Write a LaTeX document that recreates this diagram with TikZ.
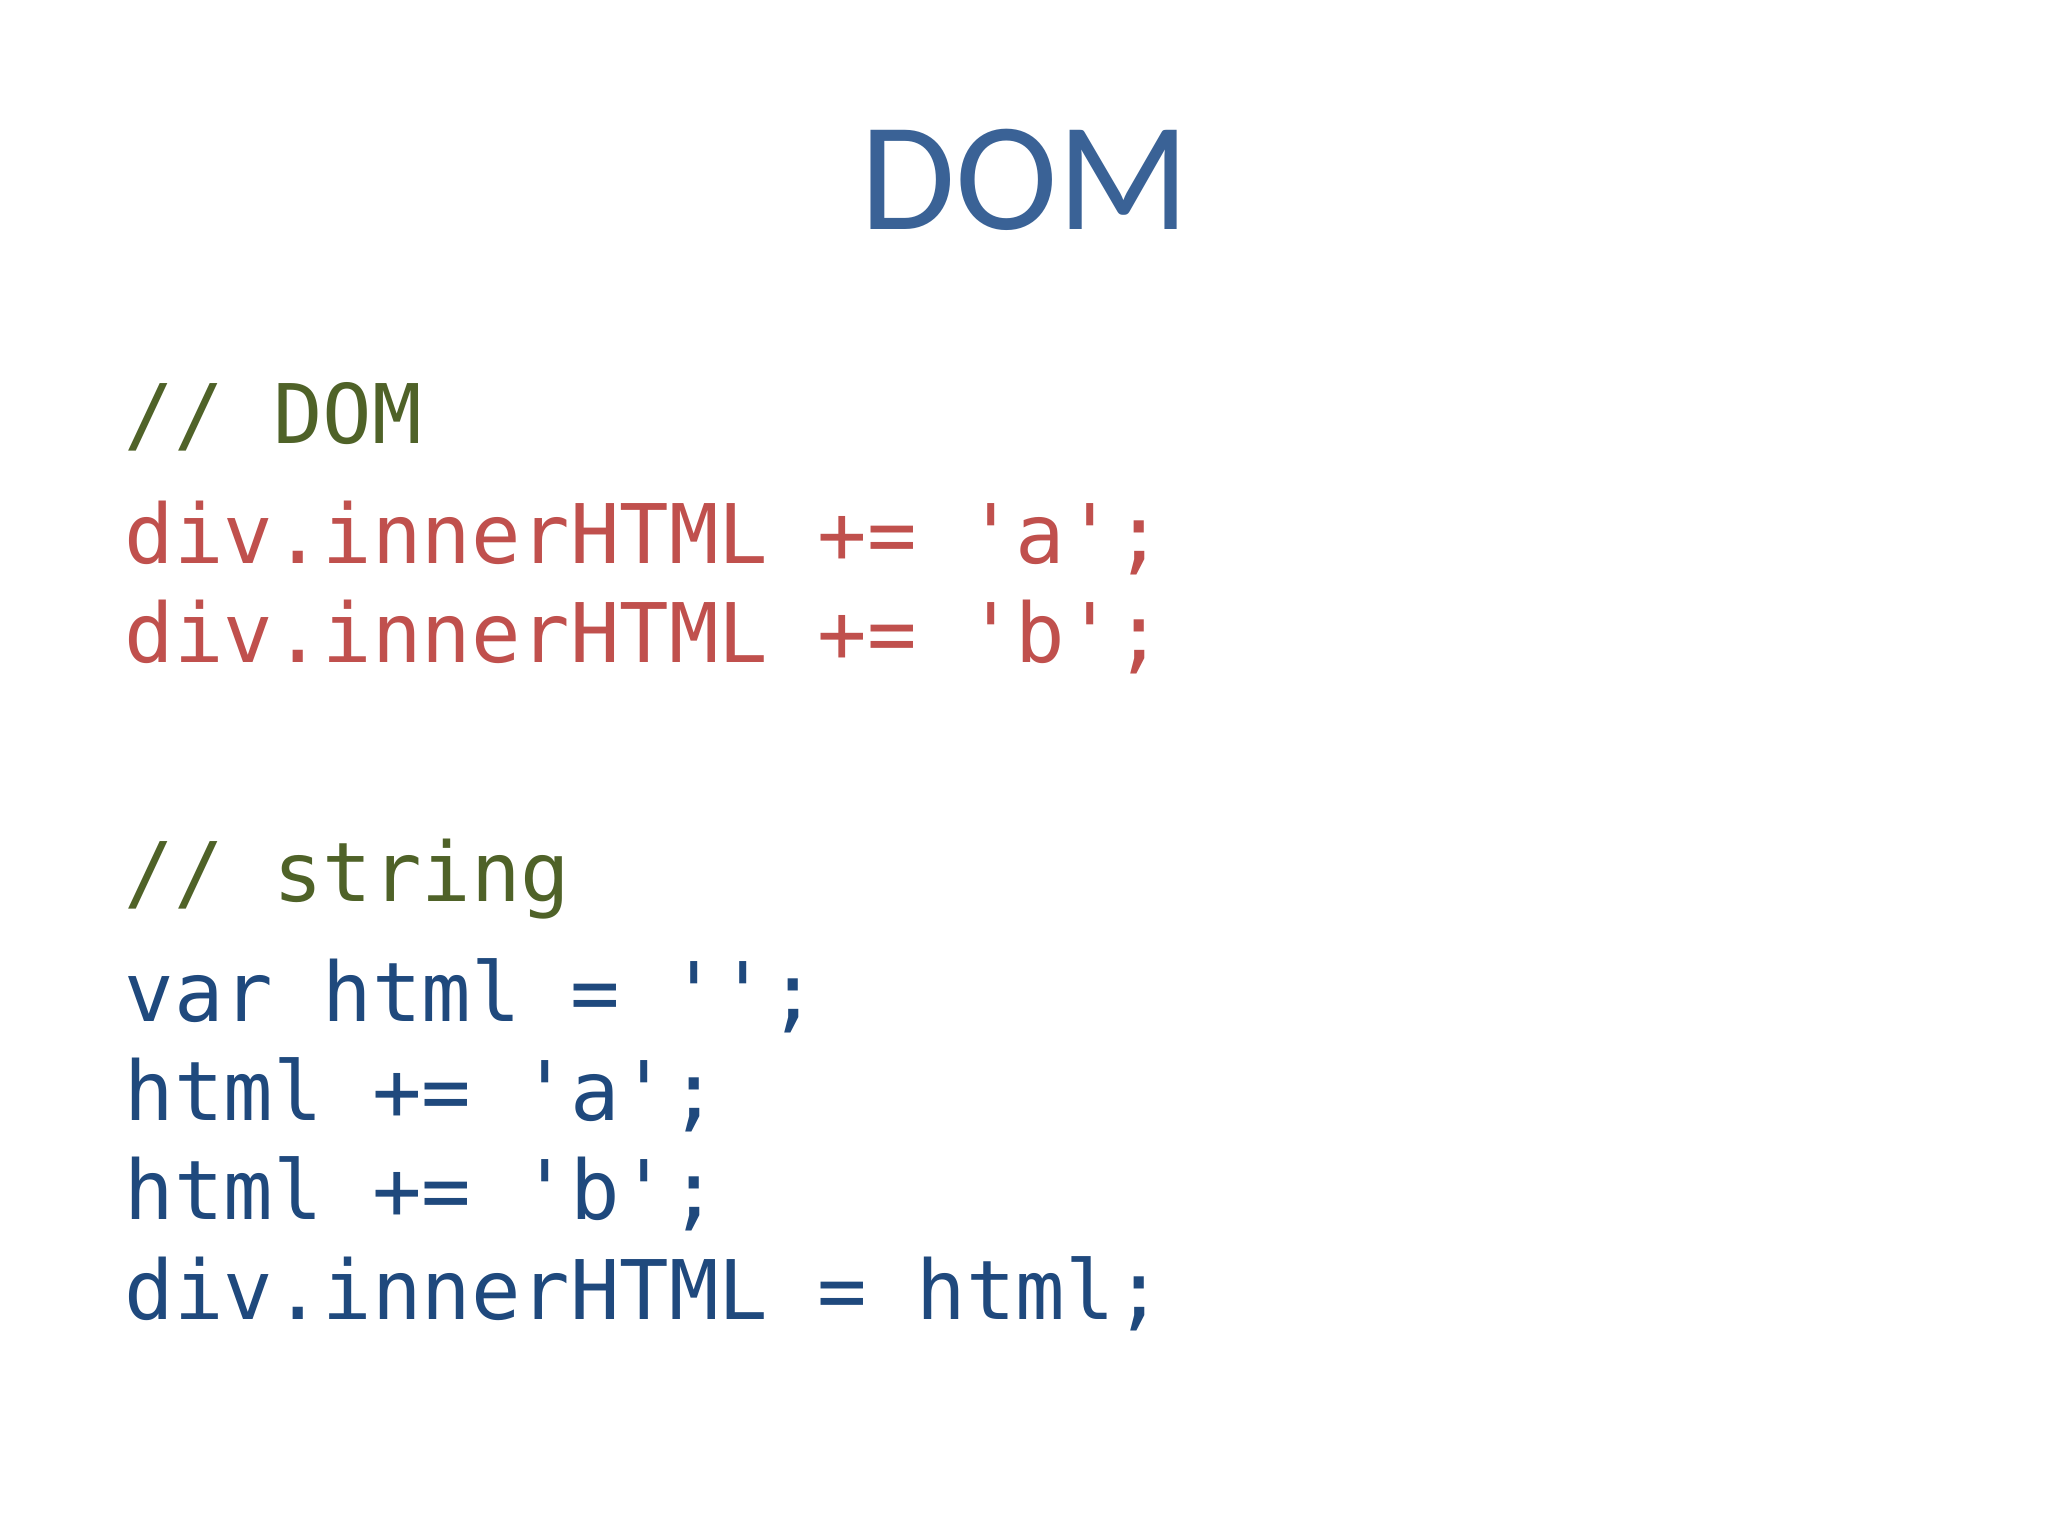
\documentclass[tikz,border=0pt]{standalone}
\usepackage{fontspec}
\setmainfont{Carlito}
\newfontfamily\codefont{DejaVu Sans Mono}
\definecolor{titleblue}{HTML}{3A6296}
\definecolor{cmtgreen}{HTML}{4F6228}
\definecolor{codered}{HTML}{C0504D}
\definecolor{codeblue}{HTML}{1F497D}
\tikzset{
  codeline/.style={anchor=base west,inner sep=0pt,font=\codefont\fontsize{23.4}{28}\selectfont},
  cmt/.style={codeline,text=cmtgreen},
  domline/.style={codeline,text=codered},
  strline/.style={codeline,text=codeblue}
}
\begin{document}
\begin{tikzpicture}[x=1cm,y=-1cm]
  \useasboundingbox[fill=white] (0,0) rectangle (20.48,15.36);

  % title
  \node[anchor=base,inner sep=0pt,text=titleblue,font=\fontsize{44}{50}\selectfont] (title) at (10.25,2.30) {DOM};

  % DOM block
  \node[cmt]     (cmtdom) at (1.24,4.44) {// DOM};
  \node[domline] (doma)   at (1.24,5.64) {div.innerHTML += 'a';};
  \node[domline] (domb)   at (1.24,6.63) {div.innerHTML += 'b';};

  % string block
  \node[cmt]     (cmtstr) at (1.24,9.01) {// string};
  \node[strline] (strvar) at (1.24,10.21) {var html = '';};
  \node[strline] (stra)   at (1.24,11.20) {html += 'a';};
  \node[strline] (strb)   at (1.24,12.19) {html += 'b';};
  \node[strline] (strset) at (1.24,13.19) {div.innerHTML = html;};
\end{tikzpicture}
\end{document}
